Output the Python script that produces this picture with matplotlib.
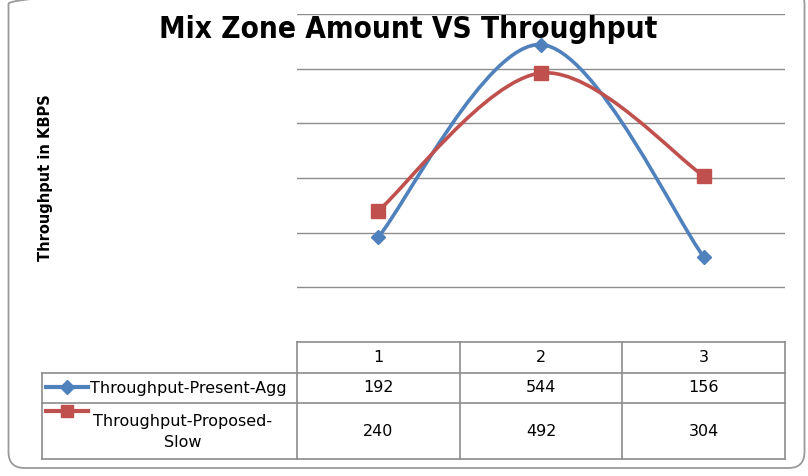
import matplotlib
matplotlib.use("Agg")
import matplotlib.pyplot as plt
from matplotlib.path import Path
from matplotlib.patches import PathPatch, FancyBboxPatch
from matplotlib.lines import Line2D
from matplotlib.transforms import IdentityTransform

# data
categories = ["1", "2", "3"]
present_agg = [192, 544, 156]
proposed_slow = [240, 492, 304]
series_names = ["Throughput-Present-Agg", "Throughput-Proposed-\nSlow"]
blue = "#4F81BD"
red = "#C0504D"
grid_c = "#8C8C8C"

W, H = 808, 476
fig = plt.figure(figsize=(W / 100, H / 100), dpi=100)

# rounded outer frame in pixels (top edge sits just outside the image)
frame = FancyBboxPatch((8.5, 8), 796, 480,
                       boxstyle="round,pad=0,rounding_size=16",
                       transform=IdentityTransform(), facecolor="none",
                       edgecolor="#9A9A9A", linewidth=1.3, zorder=-10)
fig.patches.append(frame)


def px_axes(x0, y0, x1, y1):
    return fig.add_axes([x0 / W, 1 - y1 / H, (x1 - x0) / W, (y1 - y0) / H])


def smooth_path(xs, ys):
    # excel-like smoothed line: cubic bezier with catmull-rom control points
    pts = list(zip(xs, ys))
    n = len(pts)
    verts = [pts[0]]
    codes = [Path.MOVETO]
    for i in range(n - 1):
        p0 = pts[i - 1] if i > 0 else pts[i]
        p1 = pts[i]
        p2 = pts[i + 1]
        p3 = pts[i + 2] if i + 2 < n else pts[i + 1]
        c1 = (p1[0] + (p2[0] - p0[0]) / 6, p1[1] + (p2[1] - p0[1]) / 6)
        c2 = (p2[0] - (p3[0] - p1[0]) / 6, p2[1] - (p3[1] - p1[1]) / 6)
        verts += [c1, c2, p2]
        codes += [Path.CURVE4] * 3
    return Path(verts, codes)


# plot area
ax = px_axes(297, 14, 785, 342)
xpos = [i + 0.5 for i in range(len(categories))]
ax.set_xlim(0, len(categories))
ax.set_ylim(0, 600)
ax.set_yticks([100, 200, 300, 400, 500, 600])
ax.yaxis.grid(True, color=grid_c, linewidth=1.0)
ax.tick_params(left=False, bottom=False, labelleft=False, labelbottom=False)
for s in ax.spines.values():
    s.set_visible(False)
ax.set_facecolor("none")

for vals, col, mk, ms in [(present_agg, blue, "D", 7.5), (proposed_slow, red, "s", 9.5)]:
    ax.add_patch(PathPatch(smooth_path(xpos, vals), facecolor="none",
                           edgecolor=col, linewidth=2.6, zorder=3))
    ax.plot(xpos, vals, linestyle="none", marker=mk, markersize=ms,
            color=col, zorder=4, clip_on=False)

fig.text(408 / W, 1 - 29 / H, "Mix Zone Amount VS Throughput", ha="center", va="center",
         fontsize=21.3, fontweight="bold", fontstretch="condensed")
fig.text(46 / W, 1 - 178 / H, "Throughput in KBPS", rotation=90, ha="center",
         va="center", fontsize=10.5, fontweight="bold")

# data table underneath, sharing the x scale of the plot
lab_w = (297 - 42) / ((785 - 297) / len(categories))
tx = px_axes(42, 342, 785, 459)
tx.set_xlim(-lab_w, len(categories))
tx.set_ylim(117, 0)
tx.axis("off")
rows = [0, 31, 61, 117]
lc = dict(color=grid_c, linewidth=1.2, clip_on=False)
tx.plot([0, len(categories)], [rows[0]] * 2, **lc)
for r in rows[1:]:
    tx.plot([-lab_w, len(categories)], [r] * 2, **lc)
tx.plot([-lab_w] * 2, [rows[1], rows[3]], **lc)
for c in range(len(categories) + 1):
    tx.plot([c] * 2, [rows[0], rows[3]], **lc)

for i, cat in enumerate(categories):
    tx.text(xpos[i], (rows[0] + rows[1]) / 2, cat, ha="center", va="center", fontsize=11.5)
for j, vals in enumerate([present_agg, proposed_slow]):
    yc = (rows[j + 1] + rows[j + 2]) / 2
    for i, v in enumerate(vals):
        tx.text(xpos[i], yc, str(v), ha="center", va="center", fontsize=11.5)

# legend keys in the row headers
key_x0 = -lab_w + 4 / 162.7
key_x1 = -lab_w + 46 / 162.7
for j, (col, mk, ms) in enumerate([(blue, "D", 7), (red, "s", 9)]):
    yk = rows[j + 1] + 14 if j == 0 else rows[j + 1] + 8
    tx.add_line(Line2D([key_x0, key_x1], [yk, yk], color=col, linewidth=3))
    tx.plot([(key_x0 + key_x1) / 2], [yk], marker=mk, markersize=ms, color=col)
tx.text(-lab_w + 48 / 162.7, (rows[1] + rows[2]) / 2, series_names[0], ha="left",
        va="center", fontsize=11.5)
tx.text(-lab_w + 141 / 162.7, (rows[2] + rows[3]) / 2 + 1, series_names[1], ha="center",
        va="center", fontsize=11.5, multialignment="center", linespacing=1.5)

fig.savefig("out.png", dpi=100)
